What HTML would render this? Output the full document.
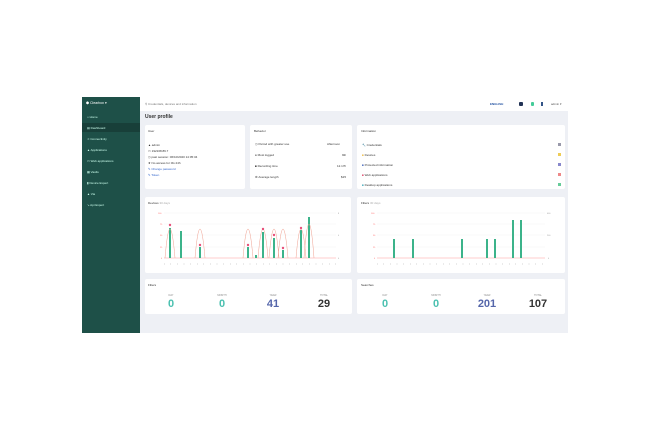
<!DOCTYPE html><html><head><style>
*{margin:0;padding:0;box-sizing:border-box}
body{width:650px;height:434px;background:#fff;font-family:"Liberation Sans",sans-serif;position:relative;overflow:hidden}
.a{position:absolute}
.card{position:absolute;background:#fff;border-radius:2px}
.t{font-size:3px;color:#333;position:absolute;white-space:nowrap}
.sb div{position:absolute;font-size:3px;color:#cfe;white-space:nowrap}
.n{position:absolute;font-size:11px;font-weight:bold;text-align:center;width:40px}
.l{position:absolute;font-size:2.5px;color:#888;text-align:center;width:40px}
</style></head><body>
<div class="a" style="left:82px;top:97px;width:58px;height:236px;background:#1e5048"></div>
<div class="a" style="left:82px;top:123px;width:58px;height:9px;background:#183f39"></div>
<div class="sb">
<div style="left:86px;top:101px;font-size:3.5px;color:#fff">⬢ Clearbox ▾</div>
<div style="left:87px;top:115px">⌂ Home</div>
<div style="left:87px;top:126px">▤ Dashboard</div>
<div style="left:87px;top:137px">⋖ Connectivity</div>
<div style="left:87px;top:148px">▲ Applications</div>
<div style="left:87px;top:159px">▭ Web applications</div>
<div style="left:87px;top:170px">▦ Vaults</div>
<div style="left:87px;top:181px">▮ Device Expert</div>
<div style="left:87px;top:192px">▲ Via</div>
<div style="left:87px;top:203px">↘ Api Expert</div>
</div>
<div class="a" style="left:140px;top:97px;width:428px;height:236px;background:#eef0f5"></div>
<div class="a" style="left:140px;top:97px;width:428px;height:14px;background:#fff"></div>
<div class="t" style="left:145px;top:102px;color:#777">⚲ Credentials, devices and information</div>
<div class="t" style="left:490px;top:102px;color:#2050a0;font-weight:bold">ENGLISH</div>
<div class="a" style="left:519px;top:102px;width:4px;height:4px;background:#235;border-radius:1px"></div>
<div class="a" style="left:531px;top:102px;width:3px;height:4px;background:#4c9;border-radius:1px"></div>
<div class="a" style="left:541px;top:102px;width:2px;height:4px;background:#358"></div>
<div class="t" style="left:551px;top:102px;color:#555">admin ▾</div>
<div class="a" style="left:145px;top:114px;font-size:5px;font-weight:bold;color:#333">User profile</div>

<div class="card" style="left:145px;top:125px;width:100px;height:64px"></div>
<div class="t" style="left:148px;top:129px">User</div>
<div class="t" style="left:148px;top:142px;line-height:6px">▲ admin<br>▭ 192168.89.7<br>◷ past session: 06/10/2020 14:05:34<br>★ No access for 0G 24h<br><span style="color:#36c">✎ Change password</span><br><span style="color:#36c">✎ Token</span></div>

<div class="card" style="left:250px;top:125px;width:102px;height:64px"></div>
<div class="t" style="left:254px;top:129px">Behavior</div>
<div class="t" style="left:255px;top:142px">◷ Period with greater use</div><div class="t" style="left:327px;top:142px">Afternoon</div>
<div class="t" style="left:255px;top:153px">● Most logged</div><div class="t" style="left:342px;top:153px">9th</div>
<div class="t" style="left:255px;top:164px">■ Recording time</div><div class="t" style="left:337px;top:164px">12.17h</div>
<div class="t" style="left:255px;top:175px">⚙ Average length</div><div class="t" style="left:341px;top:175px">$15</div>

<div class="card" style="left:357px;top:125px;width:208px;height:64px"></div>
<div class="t" style="left:361px;top:129px">Information</div>
<div class="t" style="left:362px;top:143px">🔧 Credentials</div>
<div class="t" style="left:362px;top:153px"><span style="color:#eb4">■</span> Devices</div>
<div class="t" style="left:362px;top:163px"><span style="color:#46b">■</span> Protected information</div>
<div class="t" style="left:362px;top:173px"><span style="color:#d46">■</span> Web applications</div>
<div class="t" style="left:362px;top:183px"><span style="color:#4ab">■</span> Desktop applications</div>
<div class="a" style="left:558px;top:143px;width:3px;height:3px;background:#99a"></div>
<div class="a" style="left:558px;top:153px;width:3px;height:3px;background:#ec5"></div>
<div class="a" style="left:558px;top:163px;width:3px;height:3px;background:#88c"></div>
<div class="a" style="left:558px;top:173px;width:3px;height:3px;background:#e88"></div>
<div class="a" style="left:558px;top:183px;width:3px;height:3px;background:#6c9"></div>

<div class="card" style="left:145px;top:197px;width:206px;height:76px"></div>
<div class="t" style="left:148px;top:201px">Devices <span style="color:#aaa">30 days</span></div>
<div class="card" style="left:357px;top:197px;width:208px;height:76px"></div>
<div class="t" style="left:361px;top:201px">Filters <span style="color:#aaa">30 days</span></div>
<svg class="a" style="left:0;top:0" width="650" height="434">
<g stroke="#eee" stroke-width="0.4">
<line x1="164" y1="213" x2="336" y2="213"/><line x1="164" y1="224" x2="336" y2="224"/><line x1="164" y1="235" x2="336" y2="235"/><line x1="164" y1="247" x2="336" y2="247"/>
<line x1="377" y1="213" x2="545" y2="213"/><line x1="377" y1="224" x2="545" y2="224"/><line x1="377" y1="235" x2="545" y2="235"/><line x1="377" y1="247" x2="545" y2="247"/>
</g>
<line x1="164" y1="258" x2="336" y2="258" stroke="#f99" stroke-width="0.5"/>
<line x1="377" y1="258" x2="545" y2="258" stroke="#f99" stroke-width="0.5"/>
<g fill="#3cb38a">
<rect x="169" y="228" width="2" height="30"/><rect x="180" y="231" width="2" height="27"/><rect x="199" y="247" width="2" height="11"/><rect x="247" y="247" width="2" height="11"/><rect x="255" y="255" width="2" height="3"/><rect x="262" y="232" width="2" height="26"/><rect x="273" y="238" width="2" height="20"/><rect x="282" y="250" width="2" height="8"/><rect x="300" y="230" width="2" height="28"/><rect x="308" y="217" width="2" height="41"/>
<rect x="393" y="239" width="2" height="19"/><rect x="412" y="239" width="2" height="19"/><rect x="461" y="239" width="2" height="19"/><rect x="486" y="239" width="2" height="19"/><rect x="494" y="239" width="2" height="19"/><rect x="512" y="220" width="2" height="38"/><rect x="520" y="220" width="2" height="38"/>
</g>
<g fill="none" stroke="#f0a090" stroke-width="0.5">
<path d="M165 258 Q170 200 175 258 M195 258 Q200 200 205 258 M243 258 Q248 200 253 258 M258 258 Q263 200 268 258 M269 258 Q274 200 279 258 M278 258 Q283 200 288 258 M296 258 Q301 200 306 258 M304 258 Q309 190 314 258"/>
</g>
<g fill="#e8507a"><circle cx="170" cy="225" r="1.2"/><circle cx="200" cy="245" r="1.2"/><circle cx="248" cy="245" r="1.2"/><circle cx="263" cy="229" r="1.2"/><circle cx="274" cy="235" r="1.2"/><circle cx="283" cy="248" r="1.2"/><circle cx="301" cy="228" r="1.2"/></g>
<g font-size="2" fill="#f66" font-family="Liberation Sans"><text x="158" y="214">100</text><text x="160" y="225">75</text><text x="160" y="236">50</text><text x="160" y="248">25</text><text x="161" y="259">0</text>
<text x="371" y="214">100</text><text x="373" y="225">75</text><text x="373" y="236">50</text><text x="373" y="248">25</text><text x="374" y="259">0</text></g>
<g font-size="2" fill="#999" font-family="Liberation Sans"><text x="338" y="214">8</text><text x="338" y="236">4</text><text x="338" y="259">0</text><text x="547" y="214">400</text><text x="547" y="236">200</text><text x="548" y="259">0</text></g>
<g stroke="#aaa" stroke-width="1.2" stroke-dasharray="0.4 6.2"><line x1="164" y1="264" x2="336" y2="264"/><line x1="377" y1="264" x2="545" y2="264"/></g>
</svg>

<div class="card" style="left:145px;top:279px;width:207px;height:35px"></div>
<div class="t" style="left:148px;top:283px">Filters</div>
<div class="l" style="left:151px;top:294px">DAY</div><div class="n" style="left:151px;top:298px;color:#4bc0b0">0</div>
<div class="l" style="left:202px;top:294px">MONTH</div><div class="n" style="left:202px;top:298px;color:#4bc0b0">0</div>
<div class="l" style="left:253px;top:294px">YEAR</div><div class="n" style="left:253px;top:298px;color:#5566aa">41</div>
<div class="l" style="left:304px;top:294px">TOTAL</div><div class="n" style="left:304px;top:298px;color:#333">29</div>
<div class="card" style="left:357px;top:279px;width:208px;height:35px"></div>
<div class="t" style="left:361px;top:283px">Searches</div>
<div class="l" style="left:365px;top:294px">DAY</div><div class="n" style="left:365px;top:298px;color:#4bc0b0">0</div>
<div class="l" style="left:416px;top:294px">MONTH</div><div class="n" style="left:416px;top:298px;color:#4bc0b0">0</div>
<div class="l" style="left:467px;top:294px">YEAR</div><div class="n" style="left:467px;top:298px;color:#5566aa">201</div>
<div class="l" style="left:518px;top:294px">TOTAL</div><div class="n" style="left:518px;top:298px;color:#333">107</div>
</body></html>
